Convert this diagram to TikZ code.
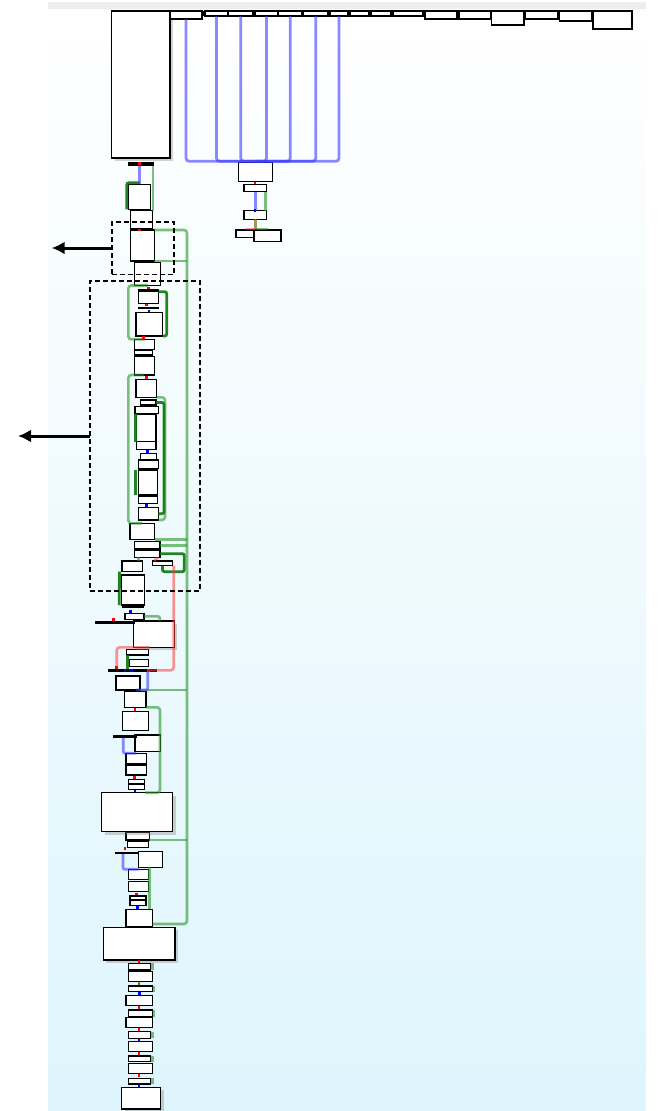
\documentclass[tikz,border=0pt]{standalone}
\usetikzlibrary{arrows.meta,shadows}
\definecolor{bgbot}{RGB}{222,245,253}
\definecolor{edgeblue}{RGB}{60,60,255}
\definecolor{edgegreen}{RGB}{40,150,40}
\definecolor{dkgreen}{RGB}{10,120,10}
\definecolor{edgered}{RGB}{255,60,60}
\definecolor{olivedot}{RGB}{120,110,20}
% block from its corners: [options]{name}{x1}{y1}{x2}{y2}
\newcommand{\blk}[6][]{%
  \node[blk,#1,minimum width={(#5)-(#3)},minimum height={(#6)-(#4)}] (#2) at ({((#3)+(#5))/2},{((#4)+(#6))/2}) {};}
\begin{document}
\begin{tikzpicture}[x=1pt, y=-1pt,
    blk/.style={draw, line width=1.5pt, fill=white, inner sep=0pt, outer sep=0pt},
    shd/.style={drop shadow={shadow xshift=3pt, shadow yshift=-3pt, opacity=.35}},
    bar/.style={fill=black, draw=none},
    grp/.style={draw, fill=none, line width=1.6pt, dash pattern=on 5pt off 3pt},
    blueedge/.style={draw=edgeblue, opacity=.6, line width=2.8pt},
    greenedge/.style={draw=edgegreen, opacity=.6, line width=2.6pt},
    dkedge/.style={draw=dkgreen, opacity=.9, line width=2.8pt},
    rededge/.style={draw=edgered, opacity=.55, line width=2.6pt},
    arr/.style={line width=3pt, -{Latex[length=13pt,width=13pt]}}]
    \useasboundingbox (0,0) rectangle (659,1111);
    % Background
    \foreach \i in {0,...,99} {
      \pgfmathsetmacro\ya{11.11*\i}
      \fill[bgbot!\i!white] (48,\ya) rectangle (646,\ya+11.3);
    }
    \fill[gray!14] (48,2) rectangle (646,9);
    \fill (170,11) rectangle (632,16);
    % Entry block and top row
    \blk[shd]{entry}{111.7}{11}{170}{158}
    \blk[bar]{bar0}{127.7}{162}{154.3}{165.5}
    \foreach \n/\xa/\xb/\yb in {1/170/202/19, 2/205/228/16, 3/228.5/253/16, 4/255/278/16,
        5/278.5/302/16, 6/303.5/328/16, 7/330/348/16, 8/350/369/16, 9/371/391/16,
        10/393/423/16, 11/425/457/19, 12/459/491/19, 13/491.5/524/25, 14/525.5/558/19,
        15/559.5/592/21, 16/593/632/29}
      {\blk{t\n}{\xa}{11}{\xb}{\yb}}
    % Side branch
    \blk{s1}{238.3}{162.7}{272.7}{181.7}
    \blk{s2}{244}{184.3}{266.7}{191.7}
    \blk{s3}{244}{210.7}{266.7}{219.3}
    \blk{s4}{236}{230}{253.3}{237.3}
    \blk{s5}{254}{230}{281}{241.3}
    % Main column
    \foreach \n/\xa/\ya/\xb/\yb in {1/128.3/184.3/150.7/209.3, 2/130.7/210.7/152.3/228.3,
        3/130.7/230/154.3/261, 4/134.3/262.7/160.7/285.5, 5/138.3/291.7/158.3/303.3,
        6/136/312.7/162.7/336, 7/134.3/339.3/154.3/349.3, 8/134.3/350.7/152.7/355,
        9/134.3/356.7/154.3/375, 10/136/379.3/156.7/397.3, 11/140.7/400/156/405,
        12/135/406.7/158.3/413.3, 13/136.7/414.3/156/441.7, 14/136.7/441.7/156/449.3,
        15/140.7/453.3/156.7/459.3, 16/138.3/460/158.3/468.3, 17/138.3/470/157.3/495,
        18/138.3/496/157.3/503.3, 19/138.3/507.3/158.3/520, 20/130/523.3/154.5/539.5,
        21/134.3/541.7/160/549, 22/134.3/550/160/557.3, 23/152.3/561/172.7/565.5,
        24/122/561/142.3/571.5, 25/121.7/575/144.3/605, 26/125/613.3/144/619.3,
        28/126.7/649.3/148.3/655, 29/129.3/659.3/148.3/666.7, 30/116/676/140/690,
        31/124.3/691.7/146/707.3, 32/122.3/711.7/148.3/730.7, 33/135/735/160.7/751.7,
        34/126/753.3/146.7/763.3, 35/126/765/146.7/775, 36/128.3/779.3/144.3/784,
        37/128.3/784/144.3/789.3, 39/126/832.7/149.3/840, 40/127.7/841/148.3/847.3,
        41/138.3/851.7/162.7/867.3, 42/128.3/869.3/148.7/879.3, 43/128.3/881.3/148.7/891.3,
        44/130/896/146/900, 45/130/900/146/905.7, 46/126/909.3/152.7/926.7,
        48/128.3/963.3/150.7/970, 49/128.3/971.7/152.3/981.7, 50/128.3/986/152.3/991.7,
        51/126/995.7/152.3/1005.7, 52/128.3/1010/152.3/1016.7, 53/126/1017.7/152.3/1027.7,
        54/128.3/1031.7/150.7/1038.3, 55/128.3/1041.7/152.3/1051.7, 56/128.3/1056/150.7/1061.7,
        57/128.3/1063.3/152.3/1073.3, 58/128.3/1078.3/150.7/1084}
      {\blk{b\n}{\xa}{\ya}{\xb}{\yb}}
    \blk[shd]{b27}{133.3}{621}{174.3}{647.3}
    \blk[shd]{b38}{101.7}{792.7}{172.7}{831.7}
    \blk[shd]{b47}{103.3}{927.3}{175}{960}
    \blk[shd]{b59}{121.7}{1087.3}{160.7}{1109}
    % Bars
    \blk[bar]{barE}{137.7}{289}{159}{291.7}
    \blk[bar]{barF}{137.7}{306.7}{159}{309.3}
    \blk[bar]{bar1}{121.7}{604}{144.3}{607.5}
    \blk[bar]{bar2}{95}{621}{135}{623.5}
    \blk[bar]{bar3}{108.3}{669}{156.7}{671.7}
    \blk[bar]{bar4}{113.3}{735}{136.7}{737.5}
    \blk[bar]{bar5}{115}{851.7}{138.3}{854.2}
    % Edges
    \foreach \i in {1,...,7}
      \draw[blueedge, rounded corners=3pt] (t\i.south) |- ([yshift=1.5pt]s1.north);
    \draw[blueedge] (s2.south) -- (s3.north);
    \draw[greenedge] ([xshift=-1.5pt]s2.south east) -- ([xshift=-1.5pt]s3.north east);
    \draw[draw=olivedot, opacity=.7, line width=2.4pt] (s3.south) -- ([yshift=1pt]s4.north -| s3.south);
    \draw[rededge] ([yshift=1pt]s4.north -| s3.south) -- ([yshift=1pt]s4.north);
    \draw[greenedge] ([yshift=1pt]s4.north -| s3.south) -- ([yshift=1pt]s5.north);
    % entry
    \draw[blueedge] (bar0.south -| b1.north) -- (b1.north);
    \draw[greenedge] ([xshift=-1.5pt]bar0.south east) -- ([xshift=-1.5pt]bar0.south east |- b2.north);
    \draw[dkedge, rounded corners=2pt] ([xshift=-1.5pt]b1.south west) |- ([yshift=1.5pt]b1.north);
    % long green trunk
    \coordinate (gtop) at (187,230);
    \coordinate (gbot) at (187,924);
    \draw[greenedge, rounded corners=3pt] (b3.north east) -- (gtop) -- (gbot) -- (gbot -| b46.east);
    \foreach \a in {b3.south east, b20.south east, b21.east, b30.south east, b39.south east}
      \draw[greenedge] (\a) -- (\a -| gtop);
    % loops
    \draw[greenedge, rounded corners=3pt] (b4.south) -| (128.3,320) |- (b7.north);
    \draw[dkedge, rounded corners=2pt] (b5.north east) -| (166.7,336) -- (b6.south east);
    \draw[greenedge, rounded corners=3pt] (b9.south) -| (128.3,450) |- (b20.north);
    \draw[greenedge, rounded corners=3pt] (b10.south east) -| (165,460) |- (b19.south east);
    \draw[dkedge, rounded corners=2pt] (b11.east) -| (164,470) |- (b19.east);
    \draw[dkedge] ([xshift=-1.5pt]b13.north west) -- ([xshift=-1.5pt]b13.south west);
    \draw[dkedge] ([xshift=-3pt]b17.north west) -- ([xshift=-3pt]b17.south west);
    \draw[dkedge, rounded corners=2pt] (b22.east) -| (184.3,571.7) -| (b23.south);
    \draw[greenedge] ([xshift=4pt]b22.south west) -- ([xshift=4pt]b22.south west |- b24.north);
    \draw[rededge] ([xshift=-2pt]b22.south east) -- ([xshift=2pt]b23.north west);
    \draw[rededge, rounded corners=3pt] ([xshift=1pt]b23.south east) |- ([xshift=-8pt]bar3.east);
    \draw[dkedge] ([xshift=-2.5pt]b24.south west) -- ([xshift=-2.5pt]b25.south west);
    \draw[greenedge, rounded corners=2pt] (b26.east) -| ([xshift=6pt]b27.north);
    \draw[rededge, rounded corners=3pt] ([xshift=-4pt]b27.south) -| ([xshift=8.4pt]bar3.north west);
    \draw[dkedge] ([xshift=1pt]b28.south west) -- ([xshift=1pt]b28.south west |- bar3.north);
    \draw[blueedge, rounded corners=2pt] ([xshift=-9pt]bar3.south east) |- ([xshift=-4pt]b30.south east);
    \draw[greenedge, rounded corners=3pt] (b31.south east) -| (160,750) |- ([xshift=8pt]b38.north);
    \draw[blueedge, rounded corners=2pt] ([xshift=10pt]bar4.south west) |- (b34.north);
    \draw[blueedge, rounded corners=2pt] ([xshift=8pt]bar5.south west) |- (b42.north);
    \draw[greenedge] ([xshift=-13pt]b41.south east) -- ([xshift=-13pt]b41.south east |- b46.north);
    \foreach \i in {48,50,52,54,56,58}
      \draw[greenedge] ([xshift=1.8pt]b\i.north east) -- ([xshift=1.8pt]b\i.south east);
    % Edge dots
    \foreach \c/\x/\y in {red/139.3/163.5, red/255/183, blue/255/210.7, red/139.3/230,
        red/148.3/288, red/146.7/305, blue/149/311, red/143.3/337.3, red/146.7/377.5,
        blue/147.7/451.3, blue/146.7/505.5, blue/130.7/611.7, red/113.3/619.5,
        red/116.7/667.5, red/148.3/670.5, blue/125/670.5, blue/131.7/670.5, red/135/709.5,
        red/134.3/777.5, blue/135/791, red/125/848.5, red/136.7/894, blue/137.3/907.7,
        red/139/961.7, olivedot/139/983.5, blue/139.3/993.5, red/139/1007.3, red/139/1029.3,
        blue/139/1040, red/139/1053.5, red/139/1075.7, blue/139/1086}
      \fill[\c] (\x-1.3,\y-1.3) rectangle (\x+1.3,\y+1.3);
    % Marked groups
    \blk[grp]{grpa}{111.7}{221.7}{174}{274.3}
    \blk[grp]{grpb}{90}{281}{200}{591}
    \draw[arr] (grpa.west) -- ++(-60,0);
    \draw[arr] (grpb.west) -- ++(-72,0);
\end{tikzpicture}
\end{document}
